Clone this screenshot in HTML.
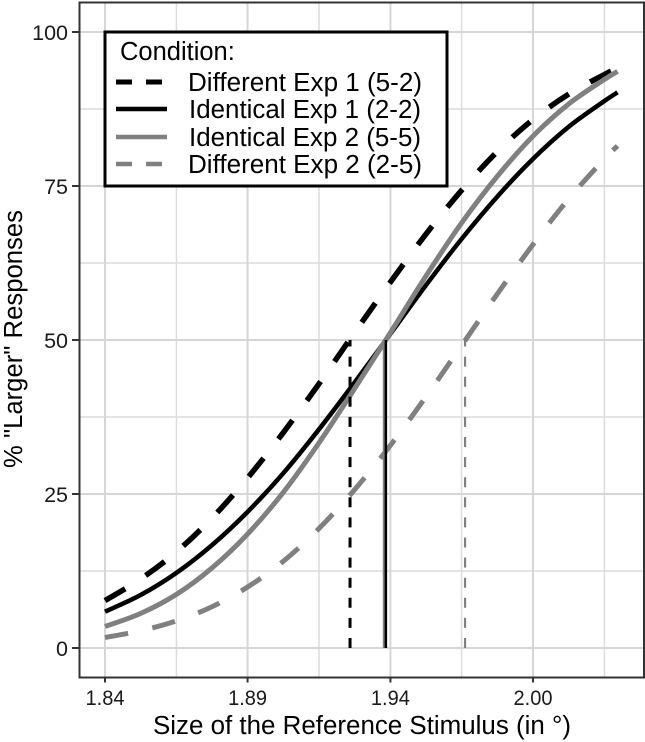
<!DOCTYPE html>
<html>
<head>
<meta charset="utf-8">
<title>Psychometric curves</title>
<style>
html,body{margin:0;padding:0;background:#fff;}
svg{display:block;font-family:"Liberation Sans",Arial,sans-serif;}
</style>
</head>
<body>
<svg id="chart" width="645" height="742" viewBox="0 0 645 742" xmlns="http://www.w3.org/2000/svg">
<g id="grid"></g>
<g id="series"></g>
<g id="axes"></g>
<text x="362" y="734" font-size="25.5" text-anchor="middle" textLength="418" lengthAdjust="spacingAndGlyphs" fill="#000">Size of the Reference Stimulus (in °)</text>
<text transform="translate(22,339) rotate(-90)" font-size="25.5" text-anchor="middle" textLength="258" lengthAdjust="spacingAndGlyphs" fill="#000">% "Larger" Responses</text>
<g>
<rect x="105" y="32" width="342" height="154" fill="#fff" stroke="#000" stroke-width="3"/>
<text x="120" y="60" font-size="25.5" fill="#000">Condition:</text>
<line x1="116" x2="167" y1="82" y2="82" stroke="#000" stroke-width="5" stroke-dasharray="16 14"/>
<text x="188" y="91" font-size="25.5" textLength="234" lengthAdjust="spacingAndGlyphs">Different Exp 1 (5-2)</text>
<line x1="116" x2="167" y1="109" y2="109" stroke="#000" stroke-width="4.5"/>
<text x="189" y="118" font-size="25.5" textLength="232" lengthAdjust="spacingAndGlyphs">Identical Exp 1 (2-2)</text>
<line x1="116" x2="167" y1="137" y2="137" stroke="#808080" stroke-width="4.5"/>
<text x="189" y="146" font-size="25.5" textLength="232" lengthAdjust="spacingAndGlyphs">Identical Exp 2 (5-5)</text>
<line x1="116" x2="162" y1="164" y2="164" stroke="#808080" stroke-width="4.5" stroke-dasharray="16 14"/>
<text x="188" y="173" font-size="25.5" textLength="234" lengthAdjust="spacingAndGlyphs">Different Exp 2 (2-5)</text>
</g>
</svg>
<script>
var stimulusSizes = [1.84, 1.8533, 1.8667, 1.88, 1.8933, 1.9067, 1.92, 1.9333, 1.9467, 1.96, 1.9733, 1.9867, 2.0, 2.0133, 2.0267, 2.0316];
var differentExp1 = [7.7, 11.2, 15.6, 21.1, 27.6, 35.0, 42.9, 51.2, 59.4, 67.2, 74.3, 80.6, 85.8, 89.9, 93.1, 94.1];
var identicalExp1 = [5.9, 8.6, 12.2, 16.7, 22.1, 28.4, 35.5, 43.1, 51.0, 58.9, 66.4, 73.3, 79.4, 84.6, 88.8, 90.2];
var identicalExp2 = [3.5, 5.6, 8.7, 13.0, 18.5, 25.3, 33.3, 42.1, 51.2, 60.4, 69.0, 76.6, 83.1, 88.3, 92.3, 93.6];
var differentExp2 = [1.7, 2.8, 4.4, 6.7, 9.9, 14.1, 19.4, 25.7, 32.9, 40.8, 49.1, 57.5, 65.5, 72.9, 79.4, 81.5];
var thresholds = [1.9316, 1.9445, 1.945, 1.9746];
var thresholdLevel = 50;
var xTickValues = [1.84, 1.8933, 1.9467, 2.0];
var xTickLabels = ["1.84", "1.89", "1.94", "2.00"];
var xMinorValues = [1.8667, 1.92, 1.9733, 2.0267];
var yTickValues = [0, 25, 50, 75, 100];
var yMinorValues = [12.5, 37.5, 62.5, 87.5];

var NS = 'http://www.w3.org/2000/svg';
var panel = {left: 79.5, right: 644, top: 2.5, bottom: 677.5};
function xScale(v){ return 105 + (v - 1.84) / 0.16 * 428; }
function yScale(p){ return 648 - p * 6.16; }
function make(tag, attrs, parent){
  var el = document.createElementNS(NS, tag);
  for (var k in attrs) el.setAttribute(k, attrs[k]);
  parent.appendChild(el);
  return el;
}
var grid = document.getElementById('grid');
var axes = document.getElementById('axes');
var series = document.getElementById('series');

xMinorValues.forEach(function(v){
  var el = make('line', {x1:xScale(v), x2:xScale(v), y1:panel.top, y2:panel.bottom, stroke:'#dcdcdc', 'stroke-width':1.5}, grid);
  
  
});
yMinorValues.forEach(function(v){
  var el = make('line', {x1:panel.left, x2:panel.right, y1:yScale(v), y2:yScale(v), stroke:'#dcdcdc', 'stroke-width':1.5}, grid);
  
  
});
xTickValues.forEach(function(v){
  var el = make('line', {x1:xScale(v), x2:xScale(v), y1:panel.top, y2:panel.bottom, stroke:'#d6d6d6', 'stroke-width':2}, grid);
  
  
});
yTickValues.forEach(function(v){
  var el = make('line', {x1:panel.left, x2:panel.right, y1:yScale(v), y2:yScale(v), stroke:'#d6d6d6', 'stroke-width':2}, grid);
  
  
});

function curvePath(xs, ys){
  var pts = xs.map(function(x, i){ return [xScale(x), yScale(ys[i])]; });
  var d = 'M' + pts[0][0].toFixed(2) + ' ' + pts[0][1].toFixed(2);
  for (var i = 0; i < pts.length - 1; i++){
    var p0 = pts[Math.max(i - 1, 0)], p1 = pts[i], p2 = pts[i + 1], p3 = pts[Math.min(i + 2, pts.length - 1)];
    var c1x = p1[0] + (p2[0] - p0[0]) / 6, c1y = p1[1] + (p2[1] - p0[1]) / 6;
    var c2x = p2[0] - (p3[0] - p1[0]) / 6, c2y = p2[1] - (p3[1] - p1[1]) / 6;
    d += 'C' + c1x.toFixed(2) + ' ' + c1y.toFixed(2) + ' ' + c2x.toFixed(2) + ' ' + c2y.toFixed(2) + ' ' + p2[0].toFixed(2) + ' ' + p2[1].toFixed(2);
  }
  return d;
}
function vline(v, color, width, dash){
  var attrs = {x1:xScale(v), x2:xScale(v), y1:yScale(0), y2:yScale(thresholdLevel), stroke:color, 'stroke-width':width};
  if (dash) attrs['stroke-dasharray'] = dash;
  return make('line', attrs, series);
}

var curveDE1 = make('path', {d:curvePath(stimulusSizes, differentExp1), fill:'none', stroke:'#000', 'stroke-width':5.5, 'stroke-dasharray':'23.5 24.3'}, series);


var curveIE1 = make('path', {d:curvePath(stimulusSizes, identicalExp1), fill:'none', stroke:'#000', 'stroke-width':4.5}, series);


var curveIE2 = make('path', {d:curvePath(stimulusSizes, identicalExp2), fill:'none', stroke:'#808080', 'stroke-width':5}, series);


var curveDE2 = make('path', {d:curvePath(stimulusSizes, differentExp2), fill:'none', stroke:'#808080', 'stroke-width':5, 'stroke-dasharray':'23.5 24.8'}, series);



var vDE1 = vline(thresholds[0], '#000', 3, '10 10.1');


var vIE2 = vline(thresholds[1], '#808080', 3.5);


var vIE1 = vline(thresholds[2], '#000', 2.5);


var vDE2 = vline(thresholds[3], '#808080', 2.2, '10 10.1');



var border = make('rect', {x:panel.left, y:panel.top, width:panel.right - panel.left, height:panel.bottom - panel.top, fill:'none', stroke:'#333', 'stroke-width':2}, axes);



yTickValues.forEach(function(v){
  var tick = make('line', {x1:72, x2:panel.left, y1:yScale(v), y2:yScale(v), stroke:'#333', 'stroke-width':2}, axes);
  
  
  var label = make('text', {x:68, y:yScale(v) + 8, 'text-anchor':'end', 'font-size':21.5, fill:'#1a1a1a'}, axes);
  
  
  label.textContent = String(v);
});
xTickValues.forEach(function(v, i){
  var tick = make('line', {x1:xScale(v), x2:xScale(v), y1:panel.bottom, y2:panel.bottom + 5, stroke:'#333', 'stroke-width':2}, axes);
  
  
  var label = make('text', {x:xScale(v), y:705, 'text-anchor':'middle', 'font-size':21.5, textLength:39, lengthAdjust:'spacingAndGlyphs', fill:'#1a1a1a'}, axes);
  
  
  label.textContent = xTickLabels[i];
});
</script>
</body>
</html>
